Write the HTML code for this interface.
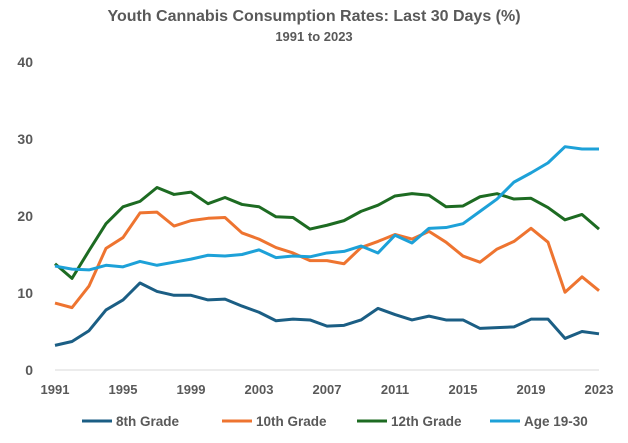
<!DOCTYPE html>
<html><head><meta charset="utf-8"><style>
body{margin:0;background:#fff;font-family:"Liberation Sans",Arial,sans-serif}
svg text{font-family:"Liberation Sans",Arial,sans-serif;fill:#595959;font-weight:bold}
</style></head><body>
<svg id="c" width="628" height="438">
<text x="314" y="21" text-anchor="middle" font-size="16">Youth Cannabis Consumption Rates: Last 30 Days (%)</text>
<text x="314" y="41" text-anchor="middle" font-size="13">1991 to 2023</text>
<g id="yaxis"></g>
<g id="xaxis"></g>
<g id="series"></g>
<g id="legend"></g>
</svg>
<script>
const years=[];for(let y=1991;y<=2023;y++)years.push(y);
const xTicks=[1991,1995,1999,2003,2007,2011,2015,2019,2023];
const yTicks=[0,10,20,30,40];
const grade8=[3.2,3.7,5.1,7.8,9.1,11.3,10.2,9.7,9.7,9.1,9.2,8.3,7.5,6.4,6.6,6.5,5.7,5.8,6.5,8.0,7.2,6.5,7.0,6.5,6.5,5.4,5.5,5.6,6.6,6.6,4.1,5.0,4.7];
const grade10=[8.7,8.1,10.9,15.8,17.2,20.4,20.5,18.7,19.4,19.7,19.8,17.8,17.0,15.9,15.2,14.2,14.2,13.8,15.9,16.7,17.6,17.0,18.0,16.6,14.8,14.0,15.7,16.7,18.4,16.6,10.1,12.1,10.3];
const grade12=[13.8,11.9,15.5,19.0,21.2,21.9,23.7,22.8,23.1,21.6,22.4,21.5,21.2,19.9,19.8,18.3,18.8,19.4,20.6,21.4,22.6,22.9,22.7,21.2,21.3,22.5,22.9,22.2,22.3,21.1,19.5,20.2,18.3];
const age1930=[13.5,13.1,13.0,13.6,13.4,14.1,13.6,14.0,14.4,14.9,14.8,15.0,15.6,14.6,14.8,14.7,15.2,15.4,16.1,15.2,17.5,16.5,18.4,18.5,19.0,20.6,22.2,24.4,25.6,26.9,29.0,28.7,28.7];
const names=["8th Grade","10th Grade","12th Grade","Age 19-30"];
const colors=["#1b5e84","#ee7430","#1d6b22","#1da1d8"];
const data=[grade8,grade10,grade12,age1930];
const X=y=>55+(y-1991)*(544/32);
const Y=v=>370-v*7.7;
const NS="http://www.w3.org/2000/svg";
function mk(t,a,p){const e=document.createElementNS(NS,t);for(const k in a)e.setAttribute(k,a[k]);p.appendChild(e);return e;}
const ya=document.getElementById('yaxis');
yTicks.forEach(v=>{const t=mk('text',{x:33,y:Y(v)+5,'text-anchor':'end','font-size':14},ya);t.textContent=v;

});
const xa=document.getElementById('xaxis');
const ax=mk('line',{x1:X(1991),x2:X(2023),y1:Y(0),y2:Y(0),stroke:'#d9d9d9','stroke-width':1},xa);


xTicks.forEach(v=>{const t=mk('text',{x:X(v),y:394,'text-anchor':'middle','font-size':13},xa);t.textContent=v;

});
const sg=document.getElementById('series');
data.forEach((s,i)=>{const p=mk('polyline',{points:s.map((v,j)=>X(years[j])+','+Y(v)).join(' '),fill:'none',stroke:colors[i],'stroke-width':3,'stroke-linejoin':'round'},sg);

});
const lg=document.getElementById('legend');
const lx=[82,222,357,490];
names.forEach((n,i)=>{const g=mk('g',{},lg);


mk('line',{x1:lx[i],x2:lx[i]+30,y1:421,y2:421,stroke:colors[i],'stroke-width':3},g);
const t=mk('text',{x:lx[i]+34,y:426,'font-size':13.5},g);t.textContent=n;});
</script>
</body></html>
